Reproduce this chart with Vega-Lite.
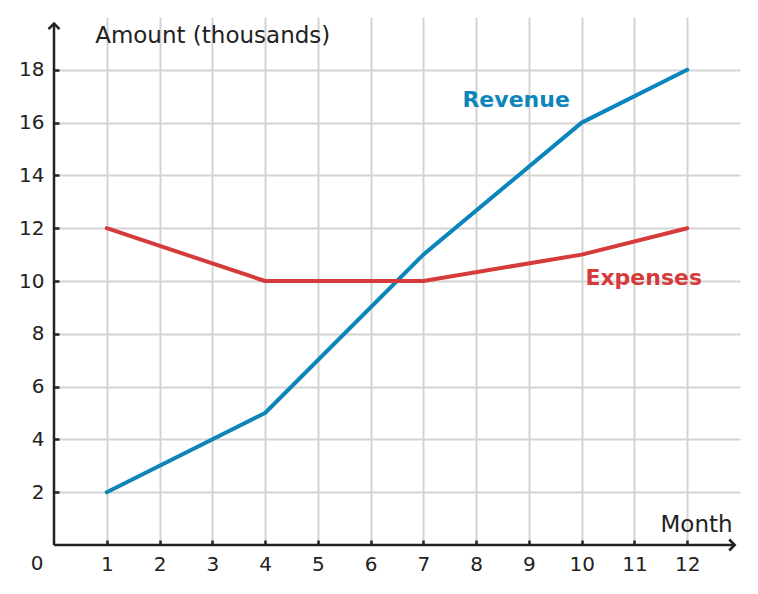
{
  "$schema": "https://vega.github.io/schema/vega-lite/v6.json",
  "width": 686,
  "height": 528,
  "autosize": "none",
  "padding": {"left": 54, "top": 17, "right": 18, "bottom": 49},
  "background": "white",
  "config": {
    "view": {"stroke": null},
    "font": "DejaVu Sans",
    "text": {"font": "DejaVu Sans"},
    "axis": {"labelFont": "DejaVu Sans", "titleFont": "DejaVu Sans"}
  },
  "datasets": {
    "series": [
      {"month": 1, "amount": 2, "series": "Revenue"},
      {"month": 4, "amount": 5, "series": "Revenue"},
      {"month": 7, "amount": 11, "series": "Revenue"},
      {"month": 10, "amount": 16, "series": "Revenue"},
      {"month": 12, "amount": 18, "series": "Revenue"},
      {"month": 1, "amount": 12, "series": "Expenses"},
      {"month": 4, "amount": 10, "series": "Expenses"},
      {"month": 7, "amount": 10, "series": "Expenses"},
      {"month": 10, "amount": 11, "series": "Expenses"},
      {"month": 12, "amount": 12, "series": "Expenses"}
    ],
    "axislines": [
      {"x": 0, "y": 0, "x2": 12.9, "y2": 0},
      {"x": 0, "y": 0, "x2": 0, "y2": 19.75}
    ],
    "serieslabels": [
      {"label": "Revenue", "x": 7.74, "y": 16.6, "series": "Revenue"},
      {"label": "Expenses", "x": 10.07, "y": 9.86, "series": "Expenses"}
    ]
  },
  "layer": [
    {
      "data": {"name": "series"},
      "mark": {"type": "line", "strokeWidth": 4, "strokeCap": "round", "strokeJoin": "round"},
      "encoding": {
        "x": {
          "field": "month", "type": "quantitative",
          "scale": {"domain": [0, 13], "nice": false, "zero": false},
          "axis": {
            "values": [1, 2, 3, 4, 5, 6, 7, 8, 9, 10, 11, 12],
            "title": null, "domain": false,
            "grid": true, "gridColor": "#d3d3d3", "gridWidth": 2,
            "ticks": true, "tickColor": "#222222", "tickWidth": 2.5, "tickSize": -5,
            "labelFont": "DejaVu Sans",
            "labelFontSize": 20, "labelColor": "#222222", "labelPadding": 14,
            "labelFlush": false, "labelOverlap": false
          }
        },
        "y": {
          "field": "amount", "type": "quantitative",
          "scale": {"domain": [0, 20], "nice": false, "zero": false},
          "axis": {
            "values": [2, 4, 6, 8, 10, 12, 14, 16, 18],
            "title": null, "domain": false,
            "grid": true, "gridColor": "#d3d3d3", "gridWidth": 2,
            "ticks": true, "tickColor": "#222222", "tickWidth": 2.5, "tickSize": -5,
            "labelFont": "DejaVu Sans",
            "labelFontSize": 20, "labelColor": "#222222", "labelPadding": 15,
            "labelFlush": false, "labelOverlap": false
          }
        },
        "color": {
          "field": "series", "type": "nominal",
          "scale": {"domain": ["Revenue", "Expenses"], "range": ["#0c86ba", "#d63b3b"]},
          "legend": null
        },
        "detail": {"field": "series"}
      }
    },
    {
      "data": {"name": "axislines"},
      "mark": {"type": "rule", "color": "#222222", "strokeWidth": 2.5},
      "encoding": {
        "x": {"field": "x", "type": "quantitative"},
        "y": {"field": "y", "type": "quantitative"},
        "x2": {"field": "x2"},
        "y2": {"field": "y2"}
      }
    },
    {
      "data": {"values": [{"x": 12.9, "y": 0}]},
      "mark": {"type": "point", "shape": "M-1,-1L0,0L-1,1", "filled": false, "size": 121, "stroke": "#222222", "strokeWidth": 2.5, "opacity": 1},
      "encoding": {
        "x": {"field": "x", "type": "quantitative"},
        "y": {"field": "y", "type": "quantitative"}
      }
    },
    {
      "data": {"values": [{"x": 0, "y": 19.75}]},
      "mark": {"type": "point", "shape": "M-1,1L0,0L1,1", "filled": false, "size": 121, "stroke": "#222222", "strokeWidth": 2.5, "opacity": 1},
      "encoding": {
        "x": {"field": "x", "type": "quantitative"},
        "y": {"field": "y", "type": "quantitative"}
      }
    },
    {
      "data": {"name": "serieslabels"},
      "mark": {"type": "text", "font": "DejaVu Sans", "fontSize": 22, "fontWeight": "bold", "align": "left", "baseline": "alphabetic"},
      "encoding": {
        "x": {"field": "x", "type": "quantitative"},
        "y": {"field": "y", "type": "quantitative"},
        "text": {"field": "label"},
        "color": {"field": "series", "type": "nominal", "legend": null}
      }
    },
    {
      "data": {"values": [{"label": "Amount (thousands)", "x": 0.78, "y": 19.03}]},
      "mark": {"type": "text", "font": "DejaVu Sans", "fontSize": 23, "align": "left", "baseline": "alphabetic", "color": "#222222"},
      "encoding": {
        "x": {"field": "x", "type": "quantitative"},
        "y": {"field": "y", "type": "quantitative"},
        "text": {"field": "label"}
      }
    },
    {
      "data": {"values": [{"label": "Month", "x": 12.86, "y": 0.49}]},
      "mark": {"type": "text", "font": "DejaVu Sans", "fontSize": 23, "align": "right", "baseline": "alphabetic", "color": "#222222"},
      "encoding": {
        "x": {"field": "x", "type": "quantitative"},
        "y": {"field": "y", "type": "quantitative"},
        "text": {"field": "label"}
      }
    },
    {
      "data": {"values": [{"label": "0", "x": 0, "y": 0}]},
      "mark": {"type": "text", "font": "DejaVu Sans", "fontSize": 20, "align": "center", "baseline": "middle", "dx": -17, "dy": 19, "color": "#222222"},
      "encoding": {
        "x": {"field": "x", "type": "quantitative"},
        "y": {"field": "y", "type": "quantitative"},
        "text": {"field": "label"}
      }
    }
  ]
}
